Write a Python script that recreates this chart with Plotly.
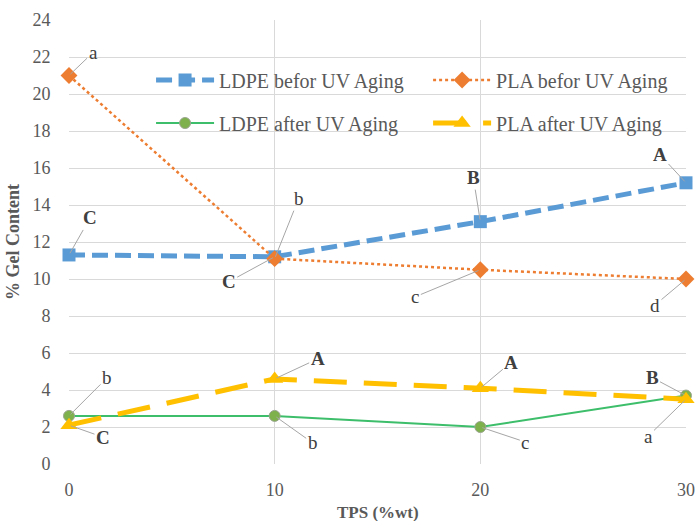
import plotly.graph_objects as go

# ---- data ----
tps = [0, 10, 20, 30]
ldpe_before = [11.3, 11.2, 13.1, 15.2]
pla_before = [21.0, 11.1, 10.5, 10.0]
ldpe_after = [2.6, 2.6, 2.0, 3.7]
pla_after = [2.1, 4.6, 4.1, 3.5]

ldpe_before_labels = ["C", "C", "B", "A"]
pla_before_labels = ["a", "b", "c", "d"]
ldpe_after_labels = ["b", "b", "c", "B"]
pla_after_labels = ["C", "A", "A", "a"]

series_names = ["LDPE befor UV Aging", "PLA befor UV Aging",
                "LDPE after UV Aging", "PLA after UV Aging"]

y_ticks = list(range(0, 25, 2))
x_ticks = [0, 10, 20, 30]

x_title = "TPS (%wt)"
y_title = "% Gel Content"

# ---- label placement (pixel offsets from point) ----
label_offsets = {
    0: [(21, -37), (-46, 25), (-7, -44), (-26, -28)],
    1: [(24, -23), (24, -60), (-65, 27), (-31, 26)],
    2: [(38, -38), (38, 27), (45, 15), (-34, -18)],
    3: [(34, 12), (43, -20), (31, -26), (-38, 37)],
}

# legend slots (paper fractions): one legend per entry -> 2x2 grid
legend_slots = {
    "legend": (0.133, 0.865),
    "legend2": (0.582, 0.865),
    "legend3": (0.133, 0.768),
    "legend4": (0.582, 0.768),
}

FONT = "Liberation Serif"
GRAY = "#595959"

fig = go.Figure()

fig.add_trace(go.Scatter(
    x=tps, y=ldpe_before, name=series_names[0], mode="lines+markers",
    line=dict(color="#5B9BD5", width=5, dash="16px,7px"),
    marker=dict(symbol="square", size=13, color="#5B9BD5"),
    cliponaxis=False, legend="legend"))
fig.add_trace(go.Scatter(
    x=tps, y=pla_before, name=series_names[1], mode="lines+markers",
    line=dict(color="#ED7D31", width=2.5, dash="3px,3px"),
    marker=dict(symbol="diamond", size=13, color="#ED7D31"),
    cliponaxis=False, legend="legend2"))
fig.add_trace(go.Scatter(
    x=tps, y=ldpe_after, name=series_names[2], mode="lines+markers",
    line=dict(color="#3DBE6A", width=2),
    marker=dict(symbol="circle", size=11, color="#7EB04C",
                line=dict(color="#9AA58F", width=1)),
    cliponaxis=False, legend="legend3"))
fig.add_trace(go.Scatter(
    x=tps, y=pla_after, name=series_names[3], mode="lines+markers",
    line=dict(color="#FFC000", width=5, dash="33px,17px"),
    marker=dict(symbol="triangle-up", size=15, color="#FFC000"),
    cliponaxis=False, legend="legend4"))

series_vals = [ldpe_before, pla_before, ldpe_after, pla_after]
series_labels = [ldpe_before_labels, pla_before_labels, ldpe_after_labels, pla_after_labels]

annotations = []
for si, (vals, labs) in enumerate(zip(series_vals, series_labels)):
    for pi, (xv, yv, lab) in enumerate(zip(tps, vals, labs)):
        ax, ay = label_offsets[si][pi]
        txt = f"<b>{lab}</b>" if lab.isupper() else lab
        annotations.append(dict(
            x=xv, y=yv, xref="x", yref="y", text=txt,
            showarrow=True, arrowhead=0, arrowwidth=1, arrowcolor="#A6A6A6",
            ax=ax, ay=ay, standoff=2,
            font=dict(family=FONT, size=19, color="#404040")))

# x-axis title as paper annotation at the bottom edge
annotations.append(dict(
    x=0.5, y=0, xref="paper", yref="paper", text=f"<b>{x_title}</b>",
    showarrow=False, xanchor="center", yanchor="top", yshift=-37,
    font=dict(family=FONT, size=17, color=GRAY)))

legend_common = dict(
    orientation="v", xanchor="left", yanchor="middle",
    itemwidth=58, bgcolor="rgba(255,255,255,0)",
    font=dict(family=FONT, size=20, color=GRAY))

layout_legends = {}
for key, (lx, ly) in legend_slots.items():
    layout_legends[key] = dict(legend_common, x=lx, y=ly)

fig.update_layout(
    width=695, height=521,
    margin=dict(l=69, r=9, t=20, b=57),
    paper_bgcolor="white", plot_bgcolor="white",
    font=dict(family=FONT, color=GRAY, size=18),
    annotations=annotations,
    showlegend=True,
    **layout_legends,
)

fig.update_xaxes(
    range=[0, 30], tickvals=x_ticks, showgrid=True, gridcolor="#D9D9D9",
    gridwidth=1, zeroline=False, showline=False, automargin=False,
    ticks="outside", ticklen=9, tickcolor="rgba(0,0,0,0)",
    tickfont=dict(family=FONT, size=18, color=GRAY),
)
fig.update_yaxes(
    range=[0, 24], tickvals=y_ticks, showgrid=True, gridcolor="#D9D9D9",
    gridwidth=1, zeroline=False, showline=False, automargin=False,
    ticks="outside", ticklen=14, tickcolor="rgba(0,0,0,0)",
    tickfont=dict(family=FONT, size=18, color=GRAY),
    title=dict(text=f"<b>{y_title}</b>", font=dict(family=FONT, size=18, color=GRAY), standoff=8),
)

fig.write_html("out.html", config={"displayModeBar": False},
               post_script="document.body.style.margin='0';")
